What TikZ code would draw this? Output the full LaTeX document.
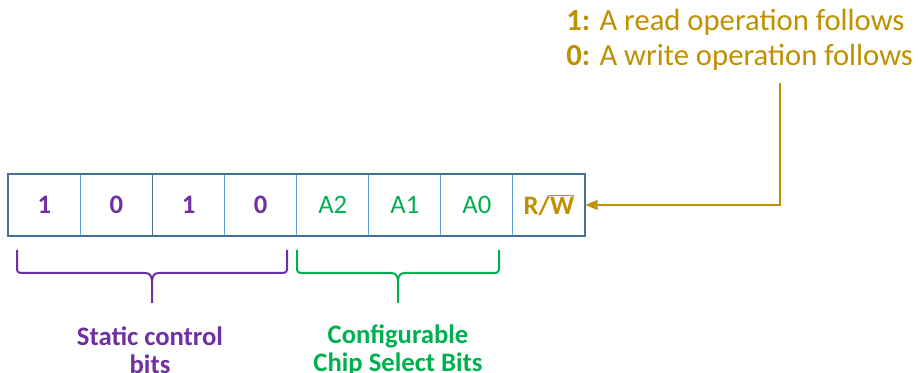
\documentclass[tikz,border=0pt]{standalone}
\usepackage{fontspec}
\setmainfont{Carlito}
\usetikzlibrary{positioning, arrows.meta}

\definecolor{bitpurple}{RGB}{112,48,160}
\definecolor{bitgreen}{RGB}{0,176,80}
\definecolor{rwgold}{RGB}{191,144,0}
\definecolor{boxblue}{RGB}{65,113,156}
\definecolor{cellblue}{RGB}{91,155,213}

\tikzset{
	cell/.style={draw=cellblue, line width=0.75pt, minimum width=54.06pt, minimum height=46.5pt, inner sep=0pt, outer sep=0pt, font=\fontsize{20}{24}\selectfont},
	fixedbit/.style={cell, text=bitpurple, font=\fontsize{20}{24}\selectfont\bfseries},
	addrbit/.style={cell, text=bitgreen},
	rwbit/.style={cell, text=rwgold, font=\fontsize{20}{24}\selectfont\bfseries},
	bracepurple/.style={draw=bitpurple, line width=1.5pt},
	bracegreen/.style={draw=bitgreen, line width=1.5pt},
	feedline/.style={draw=rwgold, line width=2pt, -{Triangle[length=9.5pt,width=7pt]}}
}

\begin{document}
\begin{tikzpicture}[x=0.75pt,y=0.75pt]
	\useasboundingbox (0,0) rectangle (918,373);

	% the eight bits of the address byte
	\node[fixedbit] (b7) at (44.4,168) {1};
	\node[fixedbit, right=0pt of b7] (b6) {0};
	\node[fixedbit, right=0pt of b6] (b5) {1};
	\node[fixedbit, right=0pt of b5] (b4) {0};
	\node[addrbit, right=0pt of b4] (a2) {A2};
	\node[addrbit, right=0pt of a2] (a1) {A1};
	\node[addrbit, right=0pt of a1] (a0) {A0};
	\node[rwbit, right=0pt of a0] (rw) {R/$\overline{\mbox{W}}$};
	\draw[draw=boxblue, line width=1.2pt] (b5.north west) -- (b5.south west);
	\draw[draw=boxblue, line width=1.5pt] (b7.north west) rectangle (rw.south east);

	% braces under the bits
	\draw[bracepurple] (17,123) -- (17,105) .. controls (17,101) and (18,100) .. (23,100) -- (145,100) .. controls (150,100) and (152,97) .. (152,91) -- (152,70);
	\draw[bracepurple] (287,123) -- (287,105) .. controls (287,101) and (286,100) .. (281,100) -- (159,100) .. controls (154,100) and (152,97) .. (152,91);
	\draw[bracegreen] (297,123) -- (297,105) .. controls (297,101) and (298,100) .. (303,100) -- (391,100) .. controls (396,100) and (398,97) .. (398,91) -- (398,70);
	\draw[bracegreen] (499,123) -- (499,105) .. controls (499,101) and (498,100) .. (493,100) -- (405,100) .. controls (400,100) and (398,97) .. (398,91);

	\node[text=bitpurple, font=\fontsize{20}{21}\selectfont\bfseries, align=center] (static) at (150,23) {Static control\\bits};
	\node[text=bitgreen, font=\fontsize{20}{21}\selectfont\bfseries, align=center] (config) at (398,23) {Configurable\\Chip Select Bits};

	% meaning of the last bit
	\node[text=rwgold, font=\fontsize{23}{26.25}\selectfont, align=left, anchor=base west, inner sep=0pt] (note) at (566,307) {\textbf{1:} A read operation follows\\\textbf{0:} A write operation follows};
	\coordinate (tap) at (780,290);
	\draw[feedline] (tap) |- (rw.east);
\end{tikzpicture}
\end{document}
